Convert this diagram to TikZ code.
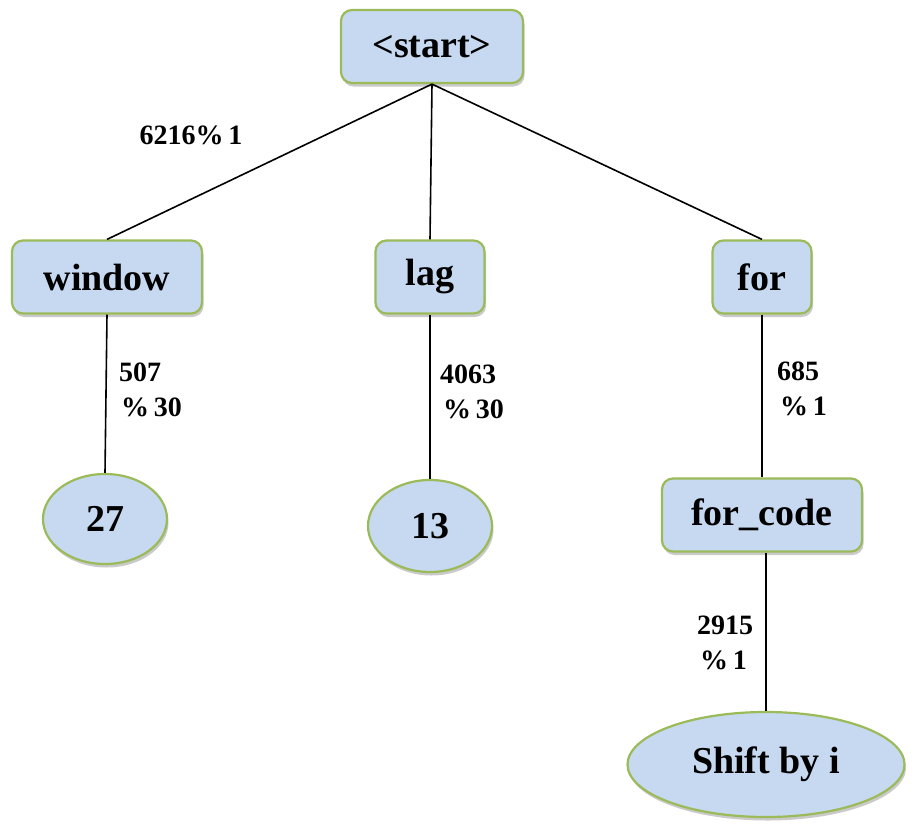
\documentclass[tikz,border=0pt]{standalone}
\usepackage{fontspec}
\setmainfont{Liberation Serif}
\usetikzlibrary{shapes.geometric,shadows}
\definecolor{nodefill}{HTML}{C6D9F1}
\definecolor{nodeline}{HTML}{9BBB59}
\tikzset{
  base/.style={draw=nodeline, line width=2.2pt, fill=nodefill, inner sep=0pt,
    font=\fontsize{38}{42}\selectfont\bfseries,
    drop shadow={shadow xshift=1.5pt, shadow yshift=-3.5pt, opacity=0.35, fill=black!60}},
  box/.style={base, rectangle, rounded corners=11pt, minimum height=73pt},
  oval/.style={base, ellipse},
  lbl/.style={font=\fontsize{28}{35}\selectfont\bfseries, align=left, inner sep=0pt},
  conn/.style={line width=1.6pt, black}
}
\begin{document}
\begin{tikzpicture}[x=1pt,y=-1pt]
\useasboundingbox (0,0) rectangle (923,835);
\node[box, minimum width=182pt] (start) at (432,46.5) {<start>};
\node[box, minimum width=190pt] (window) at (107,277) {window};
\node[box, minimum width=109pt] (lag) at (430,277) {lag};
\node[box, minimum width=99pt] (for) at (762,277) {for};
\node[oval, minimum width=124pt, minimum height=90pt] (n27) at (105,519) {27};
\node[oval, minimum width=124pt, minimum height=92pt] (n13) at (430,526) {13};
\node[box, minimum width=200pt] (forcode) at (762,515) {for\_code};
\node[oval, minimum width=277pt, minimum height=105pt] (shift) at (766,764.5) {Shift by i};

\draw[conn] (start.south) -- (window.north);
\draw[conn] (start.south) -- (lag.north);
\draw[conn] (start.south) -- (for.north);
\draw[conn] (window.south) -- (n27.north);
\draw[conn] (lag.south) -- (n13.north);
\draw[conn] (for.south) -- (forcode.north);
\draw[conn] (forcode.south -| shift.north) -- (shift.north);

\node[lbl] (l1) at (191,135) {6216\%\,1};
\node[lbl, anchor=north west] (l2) at (119,363) {507\\\hspace{2pt}\%\,30};
\node[lbl, anchor=north west] (l3) at (440,365) {4063\\\hspace{3pt}\%\,30};
\node[lbl, anchor=north west] (l4) at (777,362) {685\\\hspace{3pt}\%\,1};
\node[lbl, anchor=north west] (l5) at (697,616) {2915\\\hspace{3pt}\%\,1};
\end{tikzpicture}
\end{document}
